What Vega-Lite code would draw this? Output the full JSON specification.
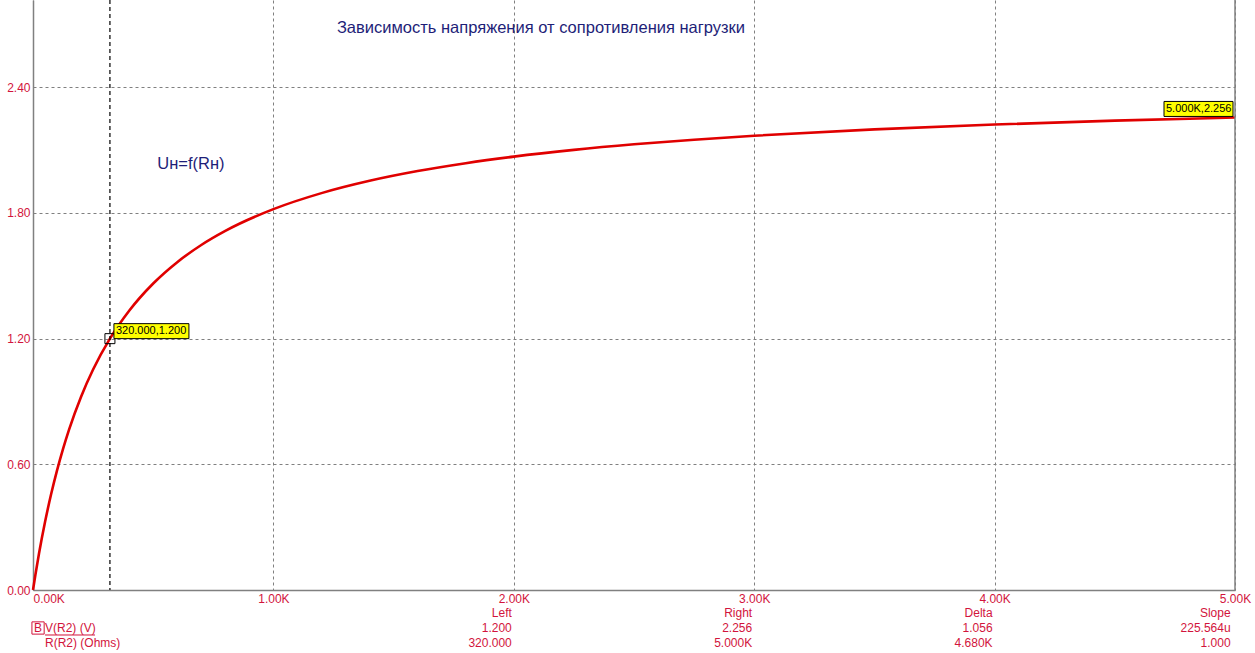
{
  "$schema": "https://vega.github.io/schema/vega-lite/v6.json",
  "autosize": "none",
  "width": 1202,
  "height": 590,
  "padding": {"left": 33, "top": 0, "right": 20, "bottom": 63},
  "background": "white",
  "config": {
    "view": {"stroke": null},
    "font": "Liberation Sans",
    "axis": {
      "domainColor": "#808080",
      "domainWidth": 1.5,
      "gridColor": "#808080",
      "gridDash": [3, 3],
      "gridWidth": 1,
      "gridOpacity": 1,
      "tickSize": 0,
      "labelColor": "#d2143c",
      "labelFont": "Liberation Sans",
      "labelFontSize": 12,
      "title": null
    }
  },
  "datasets": {
    "curve": [
      {"R": 0, "V": 0},
      {"R": 10, "V": 0.0727},
      {"R": 25, "V": 0.1739},
      {"R": 50, "V": 0.3243},
      {"R": 75, "V": 0.4557},
      {"R": 100, "V": 0.5714},
      {"R": 125, "V": 0.6742},
      {"R": 150, "V": 0.766},
      {"R": 200, "V": 0.9231},
      {"R": 250, "V": 1.0526},
      {"R": 320, "V": 1.2},
      {"R": 400, "V": 1.3333},
      {"R": 500, "V": 1.4634},
      {"R": 600, "V": 1.5652},
      {"R": 700, "V": 1.6471},
      {"R": 800, "V": 1.7143},
      {"R": 1000, "V": 1.8182},
      {"R": 1200, "V": 1.8947},
      {"R": 1400, "V": 1.9535},
      {"R": 1600, "V": 2.0},
      {"R": 1800, "V": 2.0377},
      {"R": 2000, "V": 2.069},
      {"R": 2250, "V": 2.1012},
      {"R": 2500, "V": 2.1277},
      {"R": 2750, "V": 2.1498},
      {"R": 3000, "V": 2.1687},
      {"R": 3500, "V": 2.199},
      {"R": 4000, "V": 2.2222},
      {"R": 4500, "V": 2.2407},
      {"R": 5000, "V": 2.2556}
    ],
    "cursor": [{"R": 320}],
    "border": [{"R": 5000}],
    "marks": [
      {"id": "left", "R": 320, "V": 1.2, "label": "320.000,1.200"},
      {"id": "right", "R": 5000, "V": 2.256, "label": "5.000K,2.256"}
    ],
    "notes": [
      {"R": 2113, "V": 2.683, "text": "Зависимость напряжения от сопротивления нагрузки"},
      {"R": 657, "V": 2.034, "text": "Uн=f(Rн)"}
    ],
    "footerHead": [
      {"R": 2000, "V": -0.1098, "text": "Left"},
      {"R": 3000, "V": -0.1098, "text": "Right"},
      {"R": 4000, "V": -0.1098, "text": "Delta"},
      {"R": 4990, "V": -0.1098, "text": "Slope"}
    ],
    "footerVals": [
      {"R": 2000, "V": -0.1814, "text": "1.200"},
      {"R": 3000, "V": -0.1814, "text": "2.256"},
      {"R": 4000, "V": -0.1814, "text": "1.056"},
      {"R": 4990, "V": -0.1814, "text": "225.564u"},
      {"R": 2000, "V": -0.253, "text": "320.000"},
      {"R": 3000, "V": -0.253, "text": "5.000K"},
      {"R": 4000, "V": -0.253, "text": "4.680K"},
      {"R": 4990, "V": -0.253, "text": "1.000"}
    ],
    "footerNames": [
      {"R": 50, "V": -0.1814, "text": "V(R2) (V)"},
      {"R": 50, "V": -0.253, "text": "R(R2) (Ohms)"}
    ],
    "footerB": [{"R": 21, "V": -0.1814, "text": "B"}]
  },
  "encoding": {
    "x": {
      "field": "R",
      "type": "quantitative",
      "scale": {"domain": [0, 5000], "nice": false, "zero": false}
    },
    "y": {
      "field": "V",
      "type": "quantitative",
      "scale": {"domain": [0, 2.8167], "nice": false, "zero": false}
    }
  },
  "layer": [
    {
      "data": {"name": "curve"},
      "mark": {"type": "line", "color": "#e00000", "strokeWidth": 2.6, "interpolate": "monotone"},
      "encoding": {
        "x": {
          "field": "R",
          "type": "quantitative",
          "axis": {
            "values": [0, 1000, 2000, 3000, 4000, 5000],
            "labelExpr": "format(datum.value/1000, '.2f') + 'K'",
            "labelPadding": 3,
            "labelFlush": false,
            "labelAlign": {"condition": {"test": "datum.value == 0", "value": "left"}, "value": "center"},
            "grid": true
          }
        },
        "y": {
          "field": "V",
          "type": "quantitative",
          "axis": {
            "values": [0, 0.6, 1.2, 1.8, 2.4],
            "format": ".2f",
            "labelPadding": 3,
            "grid": true
          }
        }
      }
    },
    {
      "data": {"name": "cursor"},
      "mark": {"type": "rule", "color": "black", "strokeWidth": 1.2, "strokeDash": [4, 3]},
      "encoding": {"x": {"field": "R", "type": "quantitative"}, "y": null}
    },
    {
      "data": {"name": "border"},
      "mark": {"type": "rule", "color": "#808080", "strokeWidth": 1.5},
      "encoding": {"x": {"field": "R", "type": "quantitative"}, "y": null}
    },
    {
      "data": {"name": "marks"},
      "transform": [{"filter": "datum.id == 'left'"}],
      "mark": {"type": "point", "shape": "square", "size": 100, "filled": false, "stroke": "black", "strokeWidth": 1, "opacity": 1}
    },
    {
      "data": {"name": "marks"},
      "transform": [{"filter": "datum.id == 'left'"}],
      "mark": {"type": "rect", "fill": "#ffff00", "stroke": "black", "strokeWidth": 1, "xOffset": 4, "x2Offset": 79, "yOffset": -15, "y2Offset": 0},
      "encoding": {"x2": {"field": "R"}, "y2": {"field": "V"}}
    },
    {
      "data": {"name": "marks"},
      "transform": [{"filter": "datum.id == 'left'"}],
      "mark": {"type": "text", "align": "left", "baseline": "middle", "dx": 6, "dy": -7.5, "fontSize": 11, "color": "black", "font": "Liberation Sans"},
      "encoding": {"text": {"field": "label"}}
    },
    {
      "data": {"name": "marks"},
      "transform": [{"filter": "datum.id == 'right'"}],
      "mark": {"type": "rect", "fill": "#ffff00", "stroke": "black", "strokeWidth": 1, "xOffset": -71, "x2Offset": -2, "yOffset": -16, "y2Offset": -1},
      "encoding": {"x2": {"field": "R"}, "y2": {"field": "V"}}
    },
    {
      "data": {"name": "marks"},
      "transform": [{"filter": "datum.id == 'right'"}],
      "mark": {"type": "text", "align": "left", "baseline": "middle", "dx": -69, "dy": -8.5, "fontSize": 11, "color": "black", "font": "Liberation Sans"},
      "encoding": {"text": {"field": "label"}}
    },
    {
      "data": {"name": "notes"},
      "mark": {"type": "text", "align": "center", "baseline": "middle", "fontSize": 16.5, "color": "#1e1e78", "font": "Liberation Sans"},
      "encoding": {"text": {"field": "text"}}
    },
    {
      "data": {"name": "footerHead"},
      "mark": {"type": "text", "align": "right", "baseline": "middle", "dx": -2, "fontSize": 12, "color": "#d2143c", "font": "Liberation Sans"},
      "encoding": {"text": {"field": "text"}}
    },
    {
      "data": {"name": "footerVals"},
      "mark": {"type": "text", "align": "right", "baseline": "middle", "dx": -2, "fontSize": 12, "color": "#d2143c", "font": "Liberation Sans"},
      "encoding": {"text": {"field": "text"}}
    },
    {
      "data": {"name": "footerNames"},
      "mark": {"type": "text", "align": "left", "baseline": "middle", "fontSize": 12, "color": "#d2143c", "font": "Liberation Sans"},
      "encoding": {"text": {"field": "text"}}
    },
    {
      "data": {"name": "footerNames"},
      "transform": [{"filter": "datum.text == 'V(R2) (V)'"}],
      "mark": {"type": "rule", "color": "#d2143c", "strokeWidth": 1, "x2Offset": 50, "yOffset": 7, "y2Offset": 7},
      "encoding": {"x2": {"field": "R"}, "y2": {"field": "V"}}
    },
    {
      "data": {"name": "footerB"},
      "mark": {"type": "point", "shape": "square", "size": 150, "filled": false, "stroke": "#d2143c", "strokeWidth": 1, "opacity": 1}
    },
    {
      "data": {"name": "footerB"},
      "mark": {"type": "text", "align": "center", "baseline": "middle", "fontSize": 12, "color": "#d2143c", "font": "Liberation Sans"},
      "encoding": {"text": {"field": "text"}}
    }
  ]
}
